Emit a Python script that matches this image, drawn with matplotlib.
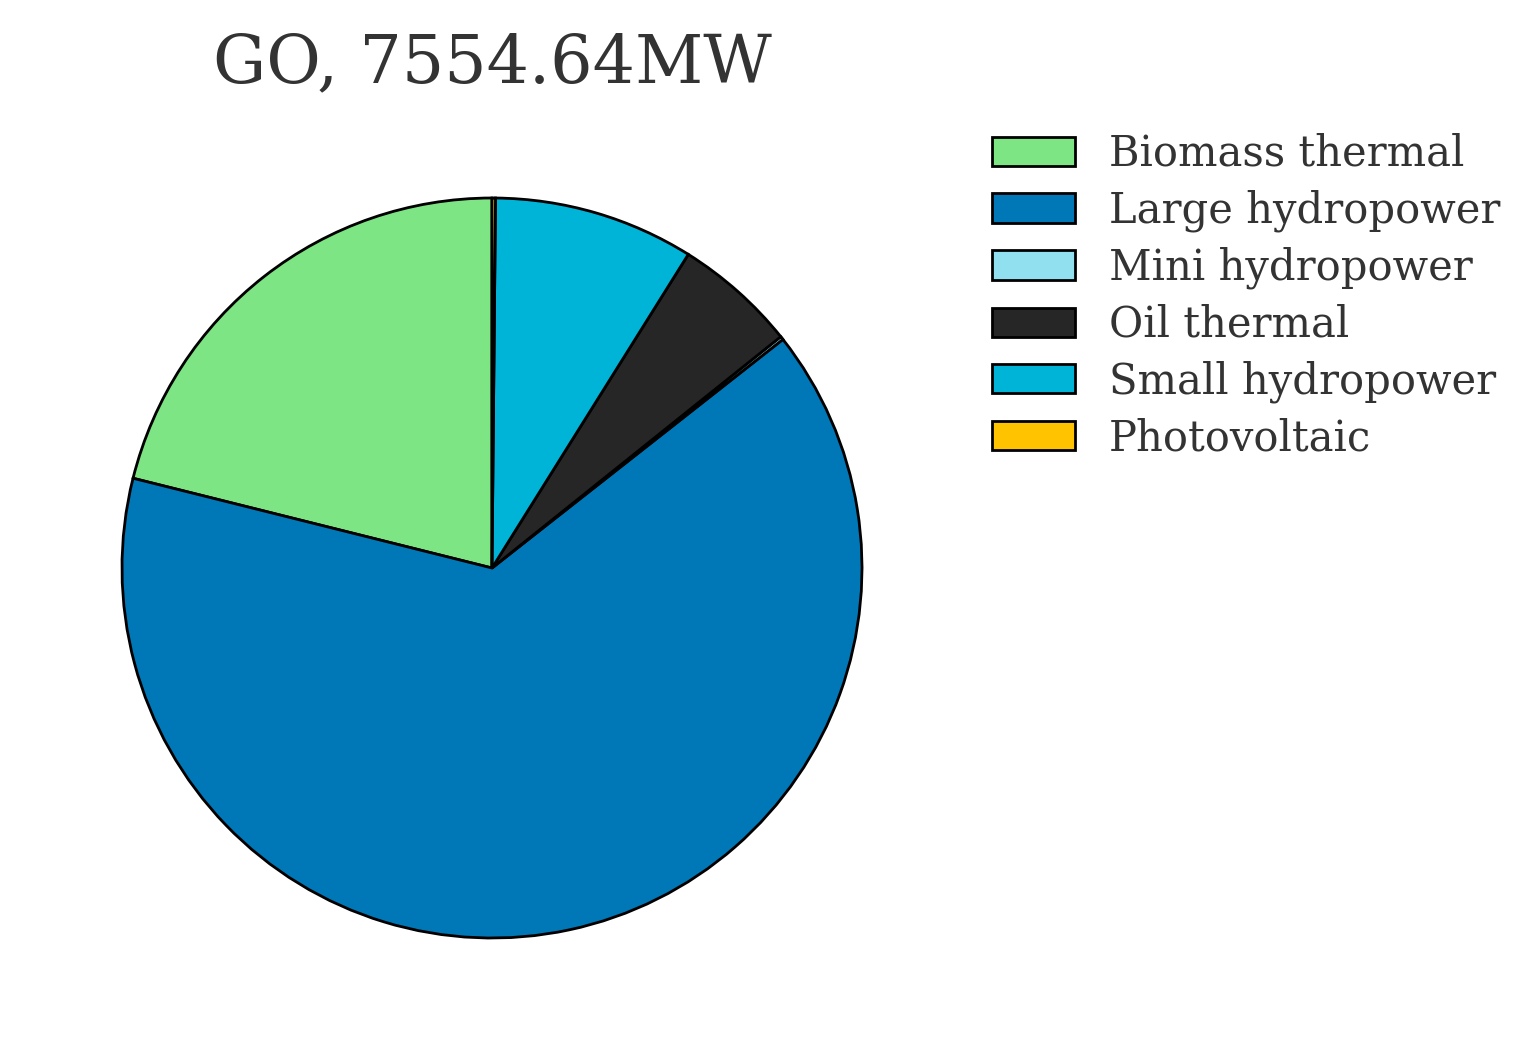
import matplotlib
matplotlib.use("Agg")
import matplotlib.pyplot as plt

plt.rcParams['font.family'] = ['DejaVu Serif']

labels = ["Biomass thermal", "Large hydropower", "Mini hydropower",
          "Oil thermal", "Small hydropower", "Photovoltaic"]
shares = [21.1, 64.5, 0.15, 5.35, 8.75, 0.15]
colors = ["#7de584", "#0077b6", "#90e0ef", "#262626", "#00b4d8", "#ffc300"]
title = "GO, 7554.64MW"

fig = plt.figure(figsize=(15.38, 10.6), dpi=100)
ax = fig.add_axes([(492 - 370) / 1538, (1060 - 568 - 370) / 1060, 740 / 1538, 740 / 1060])

wedges, _ = ax.pie(shares, colors=colors, startangle=90, counterclock=True,
                   wedgeprops=dict(edgecolor="black", linewidth=2.0))
ax.set_xlim(-1, 1)
ax.set_ylim(-1, 1)
ax.set_aspect("equal")
ax.set_title(title, fontsize=48, color="#333333", pad=83)

leg = fig.legend(wedges, labels, loc="upper left", bbox_to_anchor=(992 / 1538, 1 - 133 / 1060),
                 frameon=False, fontsize=30, borderpad=0, borderaxespad=0,
                 labelspacing=0.35, handletextpad=0.8)
for t in leg.get_texts():
    t.set_color("#333333")
for h in leg.legend_handles:
    h.set_edgecolor("black")
    h.set_linewidth(2)

fig.savefig("out.png", dpi=100)
